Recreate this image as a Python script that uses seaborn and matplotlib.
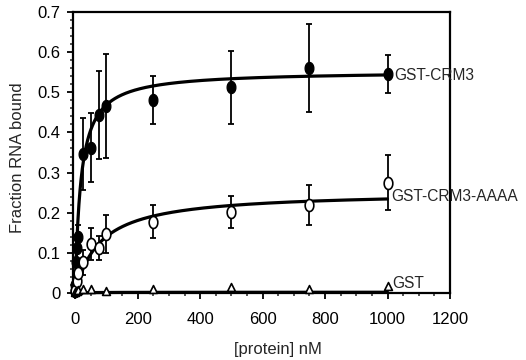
import numpy as np
import pandas as pd
import matplotlib
matplotlib.use("Agg")
import matplotlib.pyplot as plt
import seaborn as sns
from matplotlib.ticker import MultipleLocator

# ---- data ----
crm3_x = [0, 1, 2.5, 5, 10, 25, 50, 75, 100, 250, 500, 750, 1000]
crm3_y = [0.005, 0.02, 0.078, 0.111, 0.14, 0.347, 0.362, 0.444, 0.466, 0.48, 0.512, 0.56, 0.546]
crm3_err = [0.0, 0.01, 0.03, 0.03, 0.03, 0.09, 0.086, 0.11, 0.13, 0.06, 0.09, 0.11, 0.047]

aaaa_x = [0, 5, 10, 25, 50, 75, 100, 250, 500, 750, 1000]
aaaa_y = [0.005, 0.03, 0.05, 0.076, 0.121, 0.111, 0.147, 0.178, 0.201, 0.219, 0.275]
aaaa_err = [0.0, 0.01, 0.02, 0.03, 0.04, 0.03, 0.047, 0.04, 0.04, 0.049, 0.068]

gst_x = [0, 5, 10, 25, 50, 100, 250, 500, 750, 1000]
gst_y = [0.003, 0.005, 0.008, 0.01, 0.01, 0.006, 0.01, 0.014, 0.01, 0.017]

# hyperbolic binding fits: (Bmax, Kd)
fit_crm3 = (0.553, 18.0)
fit_aaaa = (0.253, 80.0)
fit_gst = (0.002, 50.0)

series_labels = ["GST-CRM3", "GST-CRM3-AAAA", "GST"]
x_ticks = [0, 200, 400, 600, 800, 1000, 1200]
y_ticks = [0, 0.1, 0.2, 0.3, 0.4, 0.5, 0.6, 0.7]

sns.set_theme(style="ticks")
plt.rcParams["font.family"] = ["Liberation Sans", "DejaVu Sans"]
FS = 12
FS_LAB = 11.2

fig = plt.figure(figsize=(5.26, 3.6), dpi=100)
ax = fig.add_axes([73 / 526, 1 - 293 / 360, 377 / 526, 281 / 360])

xf = np.linspace(0, 1000, 2001)
for (bmax, kd) in (fit_crm3, fit_aaaa, fit_gst):
    fit_df = pd.DataFrame({"x": xf, "y": bmax * xf / (kd + xf)})
    sns.lineplot(data=fit_df, x="x", y="y", ax=ax, color="black", lw=2.3,
                 zorder=3, clip_on=False)

for xs, ys, es in ((crm3_x, crm3_y, crm3_err), (aaaa_x, aaaa_y, aaaa_err)):
    ax.errorbar(xs, ys, yerr=es, fmt="none", ecolor="black", elinewidth=1.3,
                capsize=2, capthick=1.3, zorder=4, clip_on=False)

# slightly tall elliptical marker, as in the reference
t = np.linspace(0, 2 * np.pi, 40)
ellipse = list(zip(0.72 * np.cos(t), np.sin(t)))

df_c = pd.DataFrame({"x": crm3_x, "y": crm3_y})
df_a = pd.DataFrame({"x": aaaa_x, "y": aaaa_y})
df_g = pd.DataFrame({"x": gst_x, "y": gst_y})
sns.scatterplot(data=df_c, x="x", y="y", ax=ax, marker=ellipse, s=75, color="black",
                edgecolor="black", linewidth=1, zorder=5, clip_on=False)
sns.scatterplot(data=df_a, x="x", y="y", ax=ax, marker=ellipse, s=75, facecolor="white",
                edgecolor="black", linewidth=1.2, zorder=5, clip_on=False)
sns.scatterplot(data=df_g, x="x", y="y", ax=ax, marker="^", s=32, facecolor="white",
                edgecolor="black", linewidth=1.2, zorder=5, clip_on=False)

ax.set_xlim(-7, 1200)
ax.set_ylim(0, 0.7)
ax.set_xticks(x_ticks)
ax.set_yticks(y_ticks)
ax.set_xticklabels([str(v) for v in x_ticks])
ax.set_yticklabels(["0"] + [f"{v:.1f}" for v in y_ticks[1:]])
ax.xaxis.set_minor_locator(MultipleLocator(50))
ax.yaxis.set_minor_locator(MultipleLocator(0.02))
ax.tick_params(axis="both", which="major", direction="out", length=4, width=1.3,
               labelsize=FS, colors="black", pad=5)
ax.tick_params(axis="both", which="minor", direction="out", length=2.5, width=1.1)
ax.tick_params(axis="x", which="major", pad=10)
for sp in ax.spines.values():
    sp.set_visible(True)
    sp.set_linewidth(1.6)
    sp.set_color("black")

ax.set_xlabel("[protein] nM", fontsize=FS)
ax.set_ylabel("Fraction RNA bound", fontsize=FS)
ax.xaxis.set_label_coords(0.544, -0.175)
ax.yaxis.set_label_coords(-0.127, 0.48)

ax.text(1020, 0.542, series_labels[0], fontsize=FS_LAB, va="center", ha="left")
ax.text(1012, 0.240, series_labels[1], fontsize=FS_LAB, va="center", ha="left")
ax.text(1015, 0.024, series_labels[2], fontsize=FS_LAB, va="center", ha="left")

fig.savefig("out.png", dpi=100)
